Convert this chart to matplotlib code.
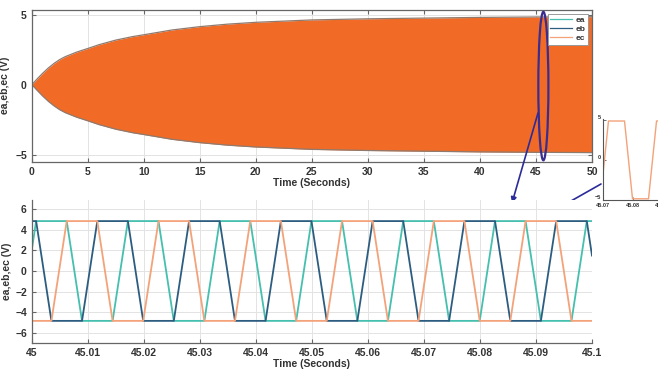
import numpy as np
import matplotlib
matplotlib.use('Agg')
from matplotlib import pyplot as plt
from matplotlib.lines import Line2D
from matplotlib.patches import Ellipse

plt.rcParams['font.family'] = ['Liberation Sans', 'DejaVu Sans']
plt.rcParams['font.weight'] = 'bold'
plt.rcParams['axes.labelweight'] = 'bold'

# envelope of the phase voltages over the whole run
env_t = [0, 0.25, 0.5, 1, 1.5, 2, 2.5, 3, 4, 5, 6, 7.5, 9, 10, 12.5, 15, 17.5, 20,
         25, 30, 35, 40, 45, 50]
env_amp = [0, 0.2, 0.42, 0.83, 1.2, 1.52, 1.79, 2.0, 2.32, 2.58, 2.85, 3.18, 3.43,
           3.56, 3.9, 4.14, 4.32, 4.45, 4.62, 4.7, 4.75, 4.8, 4.83, 4.85]

# corner points of the trapezoidal back-EMFs, 45.0 .. 45.1 s
ea_t = [45.0, 45.00079, 45.00625, 45.00898, 45.01444, 45.01717, 45.02263, 45.02536,
        45.03082, 45.03355, 45.03901, 45.04174, 45.04720, 45.04993, 45.05539, 45.05812,
        45.06358, 45.06631, 45.07177, 45.07450, 45.07996, 45.08269, 45.08815, 45.09088,
        45.09634, 45.09907, 45.1]
ea_v = [2.0, 4.85, 4.85, -4.85, -4.85, 4.85, 4.85, -4.85, -4.85, 4.85, 4.85, -4.85,
        -4.85, 4.85, 4.85, -4.85, -4.85, 4.85, 4.85, -4.85, -4.85, 4.85, 4.85, -4.85,
        -4.85, 4.85, 4.85]
eb_t = [45.0, 45.00079, 45.00352, 45.00898, 45.01171, 45.01717, 45.01990, 45.02536,
        45.02809, 45.03355, 45.03628, 45.04174, 45.04447, 45.04993, 45.05266, 45.05812,
        45.06085, 45.06631, 45.06904, 45.07450, 45.07723, 45.08269, 45.08542, 45.09088,
        45.09361, 45.09907, 45.1]
eb_v = [4.85, 4.85, -4.85, -4.85, 4.85, 4.85, -4.85, -4.85, 4.85, 4.85, -4.85, -4.85,
        4.85, 4.85, -4.85, -4.85, 4.85, 4.85, -4.85, -4.85, 4.85, 4.85, -4.85, -4.85,
        4.85, 4.85, 1.5]
ec_t = [45.0, 45.00352, 45.00625, 45.01171, 45.01444, 45.01990, 45.02263, 45.02809,
        45.03082, 45.03628, 45.03901, 45.04447, 45.04720, 45.05266, 45.05539, 45.06085,
        45.06358, 45.06904, 45.07177, 45.07723, 45.07996, 45.08542, 45.08815, 45.09361,
        45.09634, 45.1]
ec_v = [-4.85, -4.85, 4.85, 4.85, -4.85, -4.85, 4.85, 4.85, -4.85, -4.85, 4.85, 4.85,
        -4.85, -4.85, 4.85, 4.85, -4.85, -4.85, 4.85, 4.85, -4.85, -4.85, 4.85, 4.85,
        -4.85, -4.85]

series = ['ea', 'eb', 'ec']
top_xticks = [0, 5, 10, 15, 20, 25, 30, 35, 40, 45, 50]
bot_xticks = [45, 45.01, 45.02, 45.03, 45.04, 45.05, 45.06, 45.07, 45.08, 45.09, 45.1]
bot_xlabels = ['45', '45.01', '45.02', '45.03', '45.04', '45.05', '45.06', '45.07', '45.08', '45.09', '45.1']
bot_yticks = [-6, -4, -2, 0, 2, 4, 6]
inset_xticks = [45.07, 45.08, 45.09]

c_ea, c_eb, c_ec = '#45bfae', '#2c5d80', '#f3a27a'
c_fill = '#f26b26'
c_txt = '#333333'
c_spine = '#666666'

W, H = 658, 372
fig = plt.figure(figsize=(W / 100, H / 100), dpi=100)

def style(ax, box=True, fs=7.5):
    for s in ax.spines.values():
        s.set_color(c_spine)
        s.set_linewidth(0.9)
    if not box:
        ax.spines['top'].set_visible(False)
        ax.spines['right'].set_visible(False)
    ax.tick_params(direction='in', length=3, width=0.8, colors=c_spine,
                   labelcolor=c_txt, labelsize=fs, top=box, right=box)
    ax.grid(True, color='#e3e3e3', lw=0.7)
    ax.set_axisbelow(True)

# ---- top panel: full run
ax1 = fig.add_axes([31.7 / W, 1 - 161.7 / H, (592 - 31.7) / W, (161.7 - 9.7) / H])
style(ax1)
env_t = np.array(env_t)
env_amp = np.array(env_amp)
ax1.fill_between(env_t, -env_amp, env_amp, color=c_fill, lw=0)
ax1.plot(env_t, env_amp, color='#8f7a6e', lw=0.9)
ax1.plot(env_t, -env_amp, color='#8f7a6e', lw=0.9)
ax1.set_xlim(0, 50)
ax1.set_ylim(-5.5, 5.35)
ax1.set_xticks(top_xticks)
ax1.set_yticks([-5, 0, 5])
ax1.set_xlabel('Time (Seconds)', fontsize=7.5, color=c_txt, labelpad=1)
ax1.set_ylabel('ea,eb,ec (V)', fontsize=7.5, color=c_txt, labelpad=4)
handles = [Line2D([], [], color=c, lw=0.9) for c in (c_ea, c_eb, c_ec)]
leg = ax1.legend(handles, series, loc='upper right', fontsize=6, frameon=True,
                 fancybox=False, framealpha=1, edgecolor='#999999', handlelength=2.6,
                 borderpad=0.3, labelspacing=0.15, handletextpad=0.4,
                 borderaxespad=0.5)
leg.get_frame().set_linewidth(0.7)
for t in leg.get_texts():
    t.set_color(c_txt)
ax1.add_patch(Ellipse((45.66, -0.1), 0.9, 10.6, fill=False, edgecolor='#3b2d8f',
                      lw=1.6, clip_on=False, zorder=5))

# ---- bottom panel: zoom 45.0 .. 45.1 s
ax2 = fig.add_axes([31.7 / W, 1 - 343 / H, (592 - 31.7) / W, (343 - 200) / H])
style(ax2, box=False)
ax2.plot(ea_t, ea_v, color=c_ea, lw=1.3, label='ea')
ax2.plot(eb_t, eb_v, color=c_eb, lw=1.3, label='eb')
ax2.plot(ec_t, ec_v, color=c_ec, lw=1.3, label='ec')
ax2.set_xlim(45, 45.1)
ax2.set_ylim(-7, 6.9)
ax2.set_xticks(bot_xticks)
ax2.set_xticklabels(bot_xlabels)
ax2.set_yticks(bot_yticks)
ax2.set_xlabel('Time (Seconds)', fontsize=7.5, color=c_txt, labelpad=1)
ax2.set_ylabel('ea,eb,ec (V)', fontsize=7.5, color=c_txt, labelpad=2)

# ---- small cut-out on the right (runs off the figure edge)
ax3 = fig.add_axes([603 / W, 1 - 200 / H, 88 / W, 81 / H])
for s in ['top', 'right']:
    ax3.spines[s].set_visible(False)
for s in ['left', 'bottom']:
    ax3.spines[s].set_color('#555555')
    ax3.spines[s].set_linewidth(0.8)
ax3.plot(ec_t, ec_v, color=c_ec, lw=1.0)
ax3.set_xlim(45.0699, 45.0999)
ax3.set_ylim(-5, 5.1)
ax3.set_xticks(inset_xticks)
ax3.set_xticklabels(['45.07', '45.08', '45.09'])
ax3.set_yticks([-5, 0, 5])
ax3.tick_params(direction='in', length=2, width=0.6, labelsize=4, colors='#555555',
                labelcolor=c_txt)
ax3.tick_params(axis='x', pad=2.5)
ax3.tick_params(axis='y', pad=1.5)
for lab in ax3.get_yticklabels():
    lab.set_verticalalignment('bottom')

# ---- arrows linking the ellipse / cut-out to the zoom panel
arrow = dict(arrowstyle='-|>', color='#2b2b9a', lw=1.2, mutation_scale=8,
             shrinkA=0, shrinkB=0)
ax1.annotate('', xy=(512, H - 203), xytext=(538, H - 113), xycoords='figure pixels',
             textcoords='figure pixels', arrowprops=arrow, annotation_clip=False)
ax1.annotate('', xy=(541, H - 218), xytext=(601, H - 184), xycoords='figure pixels',
             textcoords='figure pixels', arrowprops=arrow, annotation_clip=False)

fig.savefig('out.png', dpi=100, facecolor='white')
